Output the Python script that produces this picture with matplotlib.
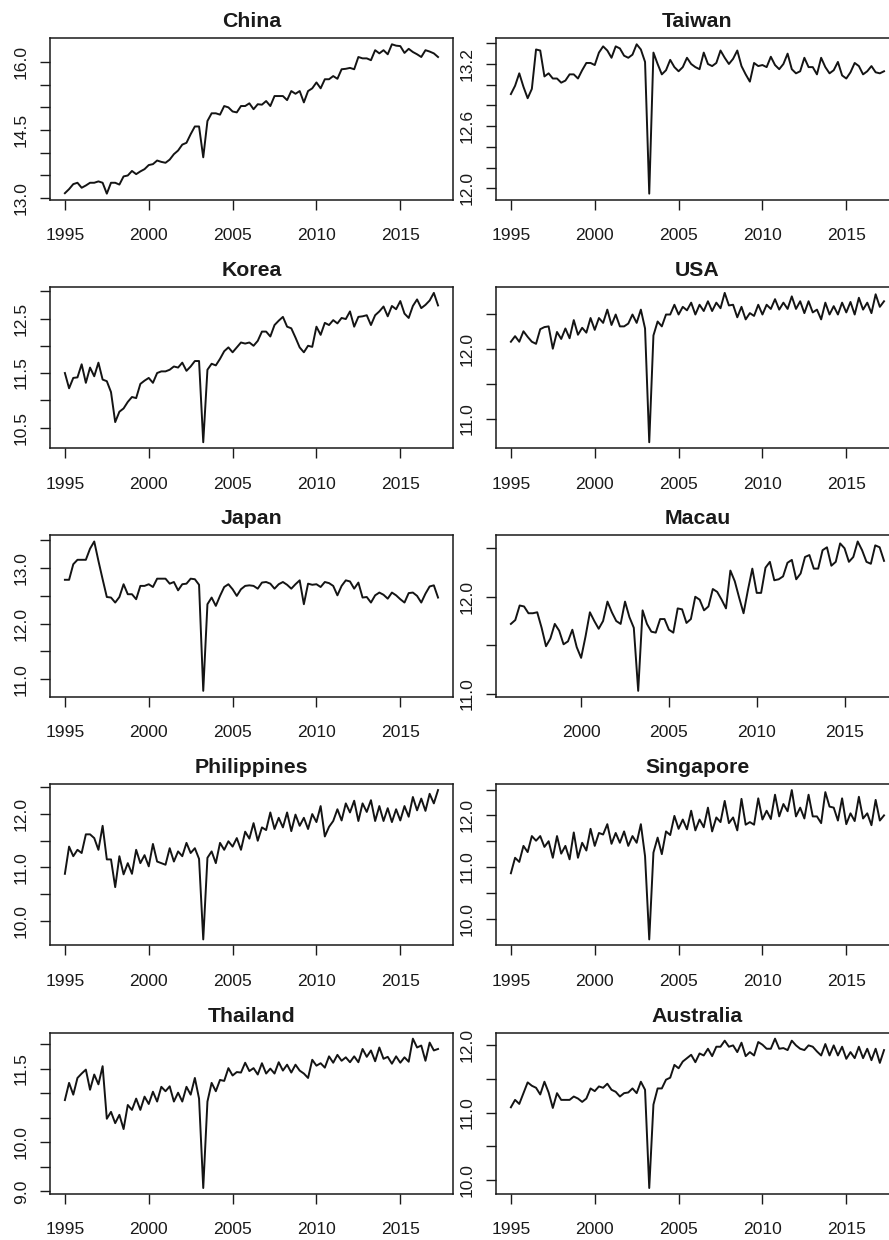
import numpy as np
import matplotlib
matplotlib.use("Agg")
import matplotlib.pyplot as plt

plt.rcParams["font.family"] = ["Liberation Sans", "DejaVu Sans"]

# quarterly series (log arrivals), 1995Q1 - 2017Q2, Macau from 1996Q1
china = [13.11, 13.20, 13.31, 13.34, 13.23, 13.28, 13.34, 13.34, 13.37, 13.34,
         13.10, 13.34, 13.34, 13.30, 13.48, 13.50, 13.60, 13.53, 13.59, 13.64,
         13.73, 13.75, 13.83, 13.80, 13.78, 13.85, 13.97, 14.05, 14.18, 14.22,
         14.41, 14.58, 14.58, 13.90, 14.70, 14.87, 14.87, 14.84, 15.03, 15.00,
         14.91, 14.89, 15.03, 15.03, 15.09, 14.96, 15.07, 15.06, 15.14, 15.03,
         15.25, 15.25, 15.25, 15.16, 15.36, 15.30, 15.36, 15.11, 15.36, 15.42,
         15.55, 15.42, 15.62, 15.62, 15.69, 15.63, 15.84, 15.85, 15.87, 15.84,
         16.11, 16.08, 16.08, 16.04, 16.26, 16.19, 16.26, 16.17, 16.39, 16.36,
         16.35, 16.20, 16.29, 16.22, 16.17, 16.11, 16.26, 16.23, 16.19, 16.11]

taiwan = [12.91, 12.99, 13.11, 12.98, 12.87, 12.96, 13.34, 13.33, 13.08, 13.11,
          13.06, 13.06, 13.02, 13.04, 13.10, 13.10, 13.06, 13.14, 13.21, 13.21,
          13.19, 13.31, 13.37, 13.33, 13.26, 13.37, 13.35, 13.28, 13.26, 13.29,
          13.39, 13.34, 13.22, 11.95, 13.31, 13.20, 13.10, 13.14, 13.24, 13.17,
          13.13, 13.17, 13.26, 13.20, 13.17, 13.15, 13.31, 13.20, 13.18, 13.21,
          13.33, 13.26, 13.20, 13.25, 13.33, 13.18, 13.10, 13.03, 13.21, 13.18,
          13.19, 13.17, 13.27, 13.19, 13.15, 13.20, 13.30, 13.15, 13.11, 13.13,
          13.26, 13.17, 13.17, 13.10, 13.26, 13.17, 13.11, 13.14, 13.22, 13.09,
          13.06, 13.12, 13.21, 13.18, 13.10, 13.13, 13.18, 13.12, 13.11, 13.13]

korea = [11.50, 11.22, 11.41, 11.42, 11.66, 11.32, 11.60, 11.44, 11.69, 11.38,
         11.35, 11.15, 10.60, 10.79, 10.85, 10.97, 11.06, 11.04, 11.30, 11.36,
         11.41, 11.32, 11.50, 11.53, 11.53, 11.56, 11.62, 11.60, 11.69, 11.54,
         11.62, 11.72, 11.72, 10.23, 11.56, 11.67, 11.64, 11.76, 11.90, 11.97,
         11.88, 11.97, 12.06, 12.04, 12.06, 12.00, 12.09, 12.26, 12.26, 12.17,
         12.38, 12.46, 12.53, 12.35, 12.32, 12.15, 11.97, 11.88, 12.00, 11.98,
         12.35, 12.20, 12.42, 12.38, 12.47, 12.41, 12.51, 12.49, 12.63, 12.35,
         12.53, 12.54, 12.56, 12.38, 12.56, 12.63, 12.72, 12.54, 12.73, 12.67,
         12.82, 12.59, 12.51, 12.73, 12.85, 12.69, 12.75, 12.83, 12.97, 12.74]

usa = [12.10, 12.18, 12.10, 12.25, 12.17, 12.10, 12.07, 12.28, 12.31, 12.32,
       12.00, 12.24, 12.14, 12.29, 12.15, 12.41, 12.20, 12.30, 12.23, 12.44,
       12.27, 12.44, 12.37, 12.56, 12.34, 12.49, 12.32, 12.32, 12.36, 12.49,
       12.37, 12.56, 12.29, 10.66, 12.19, 12.39, 12.32, 12.49, 12.49, 12.63,
       12.49, 12.60, 12.55, 12.66, 12.49, 12.63, 12.54, 12.68, 12.54, 12.66,
       12.58, 12.80, 12.62, 12.63, 12.45, 12.60, 12.42, 12.51, 12.47, 12.63,
       12.49, 12.63, 12.57, 12.71, 12.56, 12.66, 12.57, 12.75, 12.57, 12.68,
       12.51, 12.68, 12.52, 12.56, 12.42, 12.66, 12.49, 12.61, 12.49, 12.66,
       12.52, 12.67, 12.49, 12.73, 12.56, 12.66, 12.51, 12.78, 12.60, 12.68]

japan = [12.79, 12.79, 13.07, 13.15, 13.15, 13.15, 13.35, 13.48, 13.13, 12.80,
         12.48, 12.47, 12.38, 12.48, 12.71, 12.53, 12.53, 12.44, 12.68, 12.68,
         12.71, 12.66, 12.81, 12.81, 12.81, 12.72, 12.75, 12.60, 12.71, 12.72,
         12.81, 12.80, 12.70, 10.79, 12.35, 12.47, 12.32, 12.50, 12.66, 12.71,
         12.62, 12.50, 12.62, 12.68, 12.69, 12.68, 12.63, 12.74, 12.75, 12.72,
         12.63, 12.71, 12.75, 12.70, 12.63, 12.71, 12.78, 12.35, 12.72, 12.70,
         12.71, 12.66, 12.75, 12.73, 12.68, 12.51, 12.68, 12.78, 12.76, 12.63,
         12.74, 12.47, 12.48, 12.38, 12.51, 12.56, 12.52, 12.45, 12.56, 12.51,
         12.44, 12.38, 12.55, 12.56, 12.50, 12.38, 12.54, 12.67, 12.69, 12.47]

macau = [11.72, 11.76, 11.91, 11.90, 11.83, 11.83, 11.84, 11.68, 11.49, 11.57,
         11.72, 11.65, 11.51, 11.54, 11.66, 11.48, 11.37, 11.59, 11.84, 11.75,
         11.67, 11.75, 11.95, 11.84, 11.75, 11.72, 11.95, 11.79, 11.68, 11.03,
         11.86, 11.72, 11.64, 11.63, 11.77, 11.77, 11.66, 11.63, 11.88, 11.87,
         11.73, 11.77, 12.00, 11.97, 11.86, 11.90, 12.08, 12.05, 11.97, 11.88,
         12.27, 12.16, 11.99, 11.83, 12.07, 12.29, 12.04, 12.04, 12.30, 12.36,
         12.17, 12.18, 12.21, 12.35, 12.38, 12.18, 12.24, 12.41, 12.43, 12.29,
         12.29, 12.48, 12.51, 12.32, 12.36, 12.55, 12.50, 12.36, 12.41, 12.57,
         12.48, 12.36, 12.34, 12.53, 12.51, 12.37]

philippines = [10.88, 11.39, 11.21, 11.33, 11.27, 11.62, 11.62, 11.55, 11.33, 11.78,
               11.15, 11.15, 10.63, 11.21, 10.87, 11.08, 10.88, 11.33, 11.08, 11.23,
               11.02, 11.44, 11.11, 11.08, 11.05, 11.36, 11.11, 11.30, 11.21, 11.46,
               11.27, 11.36, 11.16, 9.65, 11.18, 11.30, 11.08, 11.46, 11.33, 11.49,
               11.39, 11.55, 11.33, 11.67, 11.54, 11.83, 11.50, 11.75, 11.70, 12.03,
               11.72, 11.93, 11.75, 12.03, 11.68, 11.99, 11.78, 11.93, 11.72, 12.00,
               11.85, 12.15, 11.58, 11.76, 11.87, 12.09, 11.88, 12.20, 12.03, 12.25,
               11.87, 12.20, 12.04, 12.26, 11.87, 12.15, 11.87, 12.11, 11.85, 12.09,
               11.88, 12.15, 11.95, 12.32, 12.07, 12.29, 12.06, 12.38, 12.20, 12.45]

singapore = [10.88, 11.18, 11.10, 11.41, 11.29, 11.60, 11.51, 11.60, 11.39, 11.50,
             11.18, 11.60, 11.26, 11.41, 11.15, 11.67, 11.18, 11.47, 11.32, 11.74,
             11.41, 11.66, 11.63, 11.83, 11.45, 11.66, 11.47, 11.69, 11.41, 11.60,
             11.47, 11.83, 11.21, 9.60, 11.28, 11.57, 11.25, 11.69, 11.62, 11.99,
             11.74, 11.92, 11.73, 12.09, 11.71, 11.92, 11.77, 12.15, 11.69, 11.96,
             11.87, 12.28, 11.85, 11.96, 11.71, 12.32, 11.82, 11.87, 11.82, 12.33,
             11.92, 12.09, 11.93, 12.40, 11.98, 12.22, 12.08, 12.49, 11.98, 12.15,
             11.94, 12.40, 11.98, 11.98, 11.85, 12.45, 12.17, 12.15, 11.90, 12.33,
             11.83, 12.04, 11.89, 12.36, 11.94, 12.04, 11.81, 12.30, 11.90, 12.00]

thailand = [10.86, 11.21, 10.97, 11.31, 11.40, 11.48, 11.07, 11.38, 11.18, 11.55,
            10.48, 10.62, 10.39, 10.56, 10.27, 10.76, 10.66, 10.89, 10.66, 10.93,
            10.78, 11.03, 10.83, 11.13, 11.04, 11.14, 10.83, 11.01, 10.83, 11.13,
            10.97, 11.31, 10.89, 9.07, 10.83, 11.21, 11.04, 11.27, 11.25, 11.51,
            11.36, 11.43, 11.42, 11.62, 11.45, 11.51, 11.38, 11.61, 11.40, 11.50,
            11.40, 11.63, 11.46, 11.58, 11.42, 11.58, 11.46, 11.40, 11.31, 11.68,
            11.56, 11.61, 11.52, 11.75, 11.62, 11.78, 11.66, 11.73, 11.63, 11.75,
            11.63, 11.90, 11.74, 11.87, 11.65, 11.93, 11.70, 11.74, 11.60, 11.75,
            11.62, 11.73, 11.64, 12.11, 11.93, 11.97, 11.66, 12.03, 11.87, 11.90]

australia = [11.08, 11.19, 11.13, 11.29, 11.45, 11.40, 11.37, 11.27, 11.46, 11.30,
             11.07, 11.29, 11.19, 11.19, 11.19, 11.24, 11.21, 11.16, 11.21, 11.36,
             11.32, 11.39, 11.37, 11.43, 11.34, 11.31, 11.24, 11.29, 11.30, 11.36,
             11.29, 11.46, 11.34, 9.88, 11.12, 11.36, 11.36, 11.49, 11.52, 11.71,
             11.66, 11.76, 11.81, 11.86, 11.75, 11.88, 11.85, 11.95, 11.84, 11.98,
             11.98, 12.07, 11.98, 12.00, 11.90, 12.04, 11.84, 11.90, 11.85, 12.05,
             12.01, 11.95, 11.95, 12.10, 11.95, 11.96, 11.93, 12.07, 12.00, 11.95,
             11.93, 12.00, 11.98, 11.91, 11.85, 12.02, 11.85, 12.00, 11.85, 11.98,
             11.80, 11.90, 11.81, 11.98, 11.81, 11.95, 11.78, 11.95, 11.74, 11.93]

names = ["China", "Taiwan", "Korea", "USA", "Japan", "Macau",
         "Philippines", "Singapore", "Thailand", "Australia"]
series = [china, taiwan, korea, usa, japan, macau,
          philippines, singapore, thailand, australia]
start_year = [1995, 1995, 1995, 1995, 1995, 1996, 1995, 1995, 1995, 1995]

year_ticks = [1995, 2000, 2005, 2010, 2015]
y_ticks = [
    [13.0, 13.5, 14.0, 14.5, 15.0, 15.5, 16.0],
    [12.0, 12.2, 12.4, 12.6, 12.8, 13.0, 13.2, 13.4],
    [10.5, 11.0, 11.5, 12.0, 12.5, 13.0],
    [11.0, 11.5, 12.0, 12.5],
    [11.0, 11.5, 12.0, 12.5, 13.0, 13.5],
    [11.0, 11.5, 12.0, 12.5],
    [10.0, 10.5, 11.0, 11.5, 12.0, 12.5],
    [10.0, 10.5, 11.0, 11.5, 12.0, 12.5],
    [9.0, 9.5, 10.0, 10.5, 11.0, 11.5, 12.0],
    [10.0, 10.5, 11.0, 11.5, 12.0],
]
y_shown = [
    [13.0, 14.5, 16.0],
    [12.0, 12.6, 13.2],
    [10.5, 11.5, 12.5],
    [11.0, 12.0],
    [11.0, 12.0, 13.0],
    [11.0, 12.0],
    [10.0, 11.0, 12.0],
    [10.0, 11.0, 12.0],
    [9.0, 10.0, 11.5],
    [10.0, 11.0, 12.0],
]

fig, axes = plt.subplots(5, 2, figsize=(8.89, 12.40), dpi=100)
fig.subplots_adjust(left=0.0562, right=1.0112, top=0.9691, bottom=0.0371,
                    hspace=0.541, wspace=0.1067)

for ax, name, vals, y0, yt, ys in zip(axes.flat, names, series, start_year,
                                      y_ticks, y_shown):
    vals = np.array(vals)
    t = y0 + np.arange(len(vals)) / 4.0
    ax.plot(t, vals, color="#141414", lw=1.4)

    ax.set_xticks(year_ticks)
    ax.set_xticklabels([str(y) for y in year_ticks])
    ax.set_yticks(yt)
    ax.set_yticklabels([f"{v:.1f}" if v in ys else "" for v in yt])

    # R style 4% padding around the data range
    dx = 0.04 * (t[-1] - t[0])
    dy = 0.04 * (vals.max() - vals.min())
    ax.set_xlim(t[0] - dx, t[-1] + dx)
    ax.set_ylim(vals.min() - dy, vals.max() + dy)

    ax.set_title(name, fontsize=15.3, fontweight="bold", pad=8, color="#1a1a1a")
    ax.tick_params(axis="both", direction="out", length=7.2, width=1.0,
                   labelsize=12.6, colors="#1a1a1a")
    ax.tick_params(axis="x", pad=13.3)
    ax.tick_params(axis="y", pad=8.0, labelrotation=90)
    for lab in ax.get_yticklabels():
        lab.set_va("center")
    for sp in ax.spines.values():
        sp.set_linewidth(1.1)
        sp.set_color("#1a1a1a")

fig.savefig("out.png", dpi=100)
